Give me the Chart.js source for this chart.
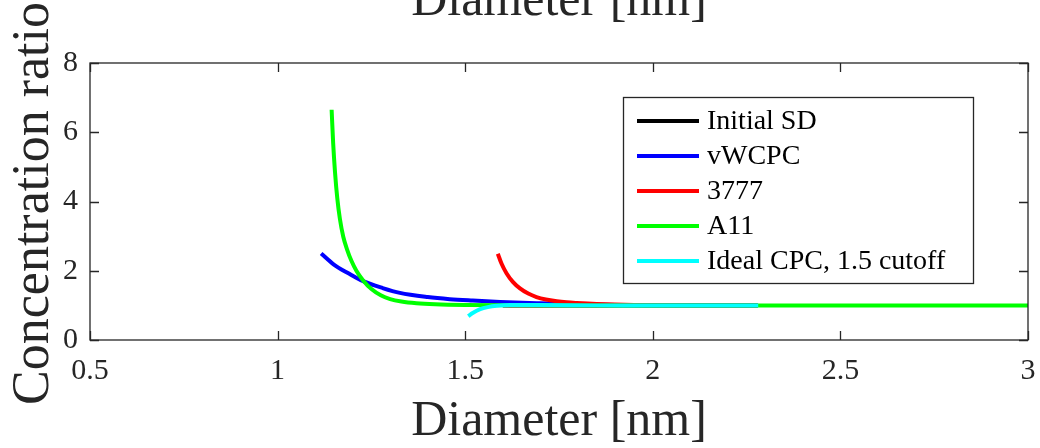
<!DOCTYPE html>
<html>
<head>
<meta charset="utf-8">
<script src="https://cdn.jsdelivr.net/npm/chart.js@4"></script>
<style>
  html, body { margin: 0; padding: 0; background: #fff; }
  #myChart { display: block; }
</style>
</head>
<body>
<canvas id="myChart" width="1040" height="448"></canvas>
<script>
// series labels + colours (legend order)
labels_ls = ['Initial SD', 'vWCPC', '3777', 'A11', 'Ideal CPC, 1.5 cutoff'];
color_ls = ['#000000', '#0000ff', '#ff0000', '#00ff00', '#00ffff'];

// diameter [nm] / concentration ratio
init_x = [1.60, 1.80, 2.00, 2.28];
init_y = [1.00, 1.00, 1.00, 1.00];

vw_x = [1.116, 1.15, 1.19, 1.228, 1.28, 1.326, 1.40, 1.459, 1.52, 1.593, 1.70, 1.80, 1.90, 2.00, 2.28];
vw_y = [2.50, 2.18, 1.92, 1.70, 1.50, 1.36, 1.24, 1.18, 1.14, 1.10, 1.06, 1.03, 1.01, 1.00, 1.00];

r3777_x = [1.587, 1.597, 1.61, 1.627, 1.646, 1.668, 1.69, 1.715, 1.744, 1.77, 1.797, 1.85, 1.95, 2.10, 2.28];
r3777_y = [2.49, 2.20, 1.93, 1.68, 1.49, 1.34, 1.24, 1.17, 1.12, 1.09, 1.07, 1.04, 1.01, 1.00, 1.00];

a11_x = [1.144, 1.148, 1.153, 1.159, 1.166, 1.175, 1.185, 1.197, 1.21, 1.228, 1.25, 1.275, 1.30, 1.33, 1.37, 1.42, 1.50, 1.70, 2.00, 2.50, 3.00];
a11_y = [6.65, 5.70, 4.85, 4.10, 3.50, 2.98, 2.62, 2.28, 2.00, 1.72, 1.47, 1.29, 1.18, 1.11, 1.06, 1.03, 1.01, 1.00, 1.00, 1.00, 1.00];

ideal_x = [1.508, 1.52, 1.54, 1.56, 1.584, 1.62, 1.70, 1.85, 2.00, 2.281];
ideal_y = [0.69, 0.78, 0.89, 0.95, 0.99, 1.01, 1.01, 1.00, 1.00, 1.00];

x_ticks = [0.5, 1, 1.5, 2, 2.5, 3];
y_ticks = [0, 2, 4, 6, 8];

x_title = 'Diameter [nm]';
y_title = 'Concentration ratio';

function pts(xs, ys) {
    return xs.map((x, i) => ({ x: x, y: ys[i] }));
}

xs_ls = [init_x, vw_x, r3777_x, a11_x, ideal_x];
ys_ls = [init_y, vw_y, r3777_y, a11_y, ideal_y];
// last one in the legend sits on top
order_ls = [4, 3, 2, 1, 0];

cutomdtaset = [];
for (let i = 0; i < labels_ls.length; i++) {
    cutomdtaset.push({
        label: labels_ls[i],
        data: pts(xs_ls[i], ys_ls[i]),
        borderColor: color_ls[i],
        backgroundColor: color_ls[i],
        borderWidth: 4,
        pointRadius: 0,
        cubicInterpolationMode: 'monotone',
        fill: false,
        order: order_ls[i]
    });
}

axcol = '#262626';
serif = "'Liberation Serif', 'Times New Roman', serif";

// box, inward ticks, titles and legend, MATLAB style
var boxPlugin = {
    id: 'boxPlugin',
    afterDatasetsDraw: function (chart) {
        var ctx = chart.ctx;
        var a = chart.chartArea;
        var sx = chart.scales.x, sy = chart.scales.y;
        ctx.save();
        ctx.strokeStyle = axcol;
        ctx.lineWidth = 1.3;
        ctx.strokeRect(a.left, a.top, a.right - a.left, a.bottom - a.top);
        ctx.beginPath();
        x_ticks.forEach(function (v) {
            var px = Math.round(sx.getPixelForValue(v)) + 0.5;
            ctx.moveTo(px, a.bottom); ctx.lineTo(px, a.bottom - 9);
            ctx.moveTo(px, a.top); ctx.lineTo(px, a.top + 9);
        });
        y_ticks.forEach(function (v) {
            var py = Math.round(sy.getPixelForValue(v)) + 0.5;
            ctx.moveTo(a.left, py); ctx.lineTo(a.left + 9, py);
            ctx.moveTo(a.right, py); ctx.lineTo(a.right - 9, py);
        });
        ctx.stroke();

        // titles
        var cx = (a.left + a.right) / 2;
        ctx.fillStyle = axcol;
        ctx.font = '50px ' + serif;
        ctx.textAlign = 'center';
        ctx.textBaseline = 'alphabetic';
        ctx.fillText(x_title, cx, 15);
        ctx.fillText(x_title, cx, 435);
        ctx.save();
        ctx.font = '52px ' + serif;
        ctx.translate(48, (a.top + a.bottom) / 2 + 2);
        ctx.rotate(-Math.PI / 2);
        ctx.fillText(y_title, 0, 0);
        ctx.restore();

        // legend
        var lx = 623, ly = 97, lw = 350, lh = 186;
        ctx.fillStyle = '#ffffff';
        ctx.fillRect(lx, ly, lw, lh);
        ctx.strokeStyle = axcol;
        ctx.lineWidth = 1.3;
        ctx.strokeRect(lx + 0.5, ly + 0.5, lw, lh);
        ctx.font = '28px ' + serif;
        ctx.textAlign = 'left';
        ctx.textBaseline = 'middle';
        chart.data.datasets.forEach(function (d, i) {
            var yy = 121 + i * 35;
            ctx.strokeStyle = d.borderColor;
            ctx.lineWidth = 4;
            ctx.beginPath();
            ctx.moveTo(637, yy); ctx.lineTo(699, yy);
            ctx.stroke();
            ctx.fillStyle = '#000000';
            ctx.fillText(d.label, 707, yy + 1);
        });
        ctx.restore();
    }
};

var canvas = document.getElementById('myChart');
var myChart = new Chart(canvas, {
    type: 'line',
    data: { datasets: cutomdtaset },
    options: {
        responsive: false,
        animation: false,
        layout: { padding: { top: 63, right: 12, left: 0, bottom: 0 } },
        plugins: {
            legend: { display: false },
            tooltip: { enabled: false }
        },
        scales: {
            x: {
                type: 'linear',
                min: 0.5,
                max: 3,
                afterBuildTicks: function (s) { s.ticks = x_ticks.map(v => ({ value: v })); },
                afterFit: function (s) { s.height = 108; s.paddingLeft = 0; s.paddingRight = 0; },
                ticks: {
                    color: axcol,
                    font: { family: serif, size: 30 },
                    padding: 13,
                    maxRotation: 0,
                    autoSkip: false,
                    callback: v => String(v)
                },
                grid: { display: false, drawTicks: false },
                border: { display: false }
            },
            y: {
                type: 'linear',
                min: 0,
                max: 8,
                afterBuildTicks: function (s) { s.ticks = y_ticks.map(v => ({ value: v })); },
                afterFit: function (s) { s.width = 90; s.paddingTop = 0; s.paddingBottom = 0; },
                ticks: {
                    color: axcol,
                    font: { family: serif, size: 30 },
                    padding: 12,
                    autoSkip: false,
                    callback: v => String(v)
                },
                grid: { display: false, drawTicks: false },
                border: { display: false }
            }
        }
    },
    plugins: [boxPlugin]
});
</script>
</body>
</html>
